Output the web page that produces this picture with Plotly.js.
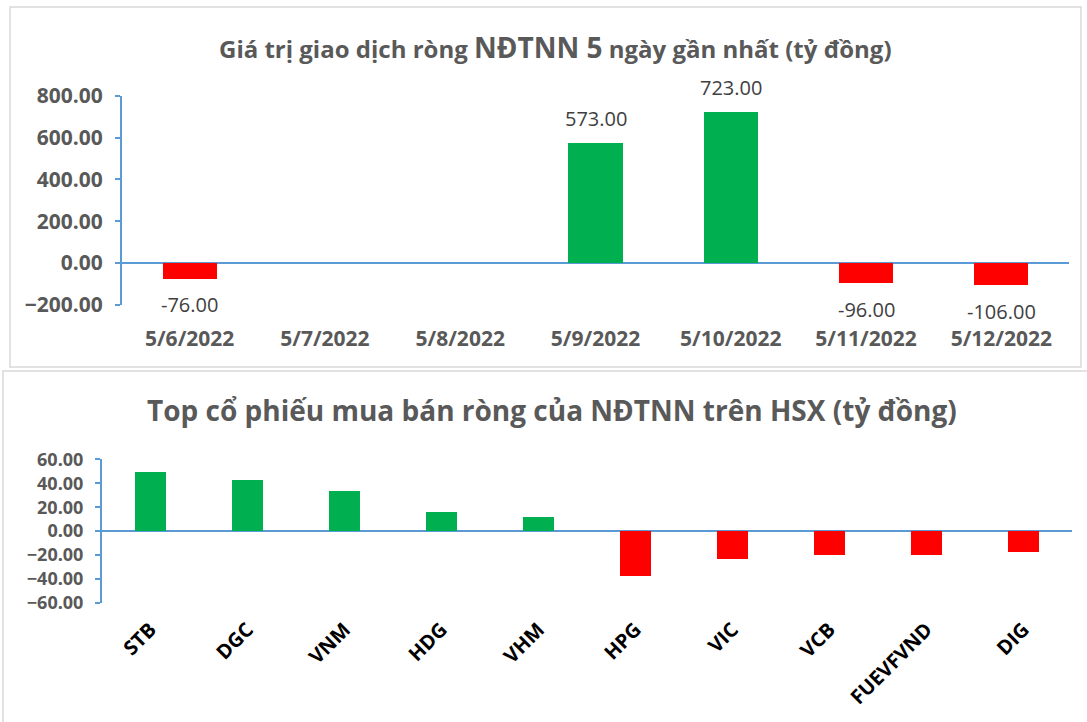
<!DOCTYPE html>
<html><head><meta charset="utf-8">
<script src="https://cdn.plot.ly/plotly-3.0.1.min.js"></script>
<style>html,body{margin:0;padding:0;background:#fff}#c{width:1087px;height:722px}</style>
</head><body><div id="c"></div>
<script>
// Top chart data
const dates = ['5/6/2022','5/7/2022','5/8/2022','5/9/2022','5/10/2022','5/11/2022','5/12/2022'];
const netValues = [-76, null, null, 573, 723, -96, -106];
// Bottom chart data
const tickers = ['STB','DGC','VNM','HDG','VHM','HPG','VIC','VCB','FUEVFVND','DIG'];
const tickerValues = [49.0, 42.3, 33.2, 15.8, 11.6, -37.3, -23.2, -19.9, -19.9, -17.4];

const GREEN = '#00B050', RED = '#FF0000', AXIS = '#5B9BD5', GREY = '#595959';
const FONT = 'Open Sans, Noto Sans, sans-serif';
const W = 1087, H = 722;
const px = x => x / W, py = y => 1 - y / H;

const colorOf = v => (v != null && v < 0) ? RED : GREEN;

const traces = [
  {type:'bar', x:dates, y:netValues, xaxis:'x', yaxis:'y',
   marker:{color:netValues.map(colorOf)}, width:0.4, hoverinfo:'x+y'},
  {type:'bar', x:tickers, y:tickerValues, xaxis:'x2', yaxis:'y2',
   marker:{color:tickerValues.map(colorOf)}, width:0.32, hoverinfo:'x+y'}
];

const annotations = [];
dates.forEach((d,i)=>{
  const v = netValues[i];
  if (v == null) return;
  annotations.push({xref:'x', yref:'y', x:d, y:v, text:v.toFixed(2), showarrow:false,
    yanchor:'middle', yshift: v >= 0 ? 25 : -26,
    font:{family:FONT, size:20, color:'#404040'}});
});
annotations.push({xref:'paper', yref:'paper', x:px(555), y:py(47), xanchor:'center', yanchor:'middle',
  showarrow:false, text:'Giá trị giao dịch ròng <span style="font-size:28px">NĐTNN 5</span> ngày gần nhất (tỷ đồng)',
  font:{family:FONT, size:24, color:GREY, weight:700}});
annotations.push({xref:'paper', yref:'paper', x:px(552), y:py(410), xanchor:'center', yanchor:'middle',
  showarrow:false, text:'Top cổ phiếu mua bán ròng của NĐTNN trên HSX (tỷ đồng)',
  font:{family:FONT, size:28, color:GREY, weight:700}});

const layout = {
  width:W, height:H, margin:{l:0,r:0,t:0,b:0}, showlegend:false,
  paper_bgcolor:'#fff', plot_bgcolor:'#fff', bargap:0,
  font:{family:FONT},
  xaxis:{domain:[px(122), px(1069)], anchor:'y', showline:false, showgrid:false, zeroline:false,
    ticks:'', ticklabelstandoff:19, tickfont:{family:FONT, size:21, color:GREY, weight:700},
    fixedrange:true},
  yaxis:{domain:[py(304.7), py(96)], anchor:'x', range:[-200,800], tickvals:[-200,0,200,400,600,800],
    tickformat:'.2f', showline:true, linecolor:AXIS, linewidth:2, ticks:'outside', ticklen:5,
    tickcolor:AXIS, tickwidth:2, showgrid:false, zeroline:true, zerolinecolor:AXIS, zerolinewidth:2,
    ticklabelstandoff:8,
    tickfont:{family:FONT, size:21, color:GREY, weight:700}, fixedrange:true},
  xaxis2:{domain:[px(102), px(1072)], anchor:'y2', showline:false, showgrid:false, zeroline:false,
    ticks:'', tickangle:-45, ticklabelstandoff:10, tickfont:{family:FONT, size:20, color:'#000', weight:700},
    fixedrange:true},
  yaxis2:{domain:[py(603), py(459.3)], anchor:'x2', range:[-60,60], tickvals:[-60,-40,-20,0,20,40,60],
    tickformat:'.2f', showline:true, linecolor:AXIS, linewidth:2, ticks:'outside', ticklen:5,
    tickcolor:AXIS, tickwidth:2, showgrid:false, zeroline:true, zerolinecolor:AXIS, zerolinewidth:2,
    ticklabelstandoff:8,
    tickfont:{family:FONT, size:18, color:GREY, weight:700}, fixedrange:true},
  annotations:annotations,
  shapes:[
    {type:'rect', xref:'paper', yref:'paper', x0:px(10), x1:px(1081), y0:py(367), y1:py(7),
     line:{color:'#D9D9D9', width:1.5}, fillcolor:'rgba(0,0,0,0)', layer:'below'},
    {type:'rect', xref:'paper', yref:'paper', x0:px(3), x1:px(1090), y0:py(725), y1:py(371),
     line:{color:'#D9D9D9', width:1.5}, fillcolor:'rgba(0,0,0,0)', layer:'below'}
  ]
};
Plotly.newPlot('c', traces, layout, {displayModeBar:false, staticPlot:true});
</script></body></html>
